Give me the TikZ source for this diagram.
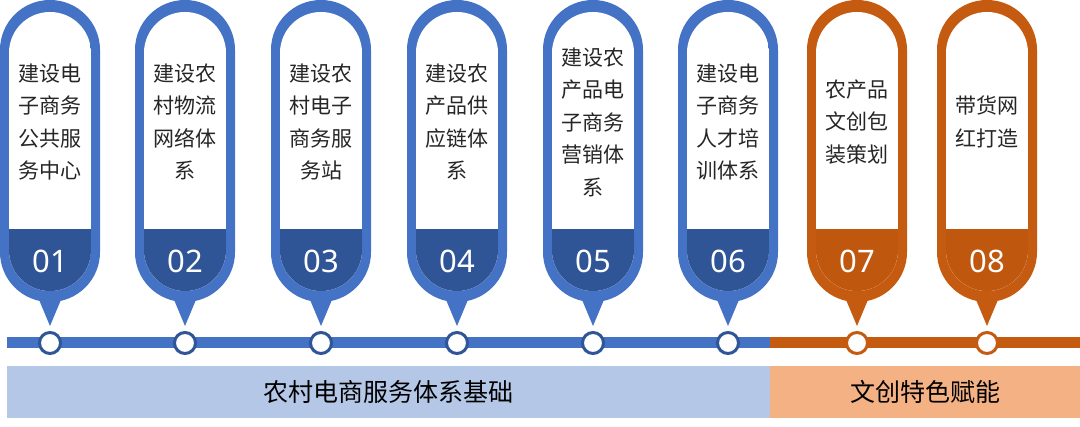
\documentclass[tikz,border=0pt]{standalone}
\usepackage{fontspec}
\newfontfamily\cjk{Noto Sans CJK SC}
\newfontfamily\numf{Noto Sans}
\definecolor{bmain}{HTML}{4472C4}
\definecolor{bdark}{HTML}{2F5597}
\definecolor{omain}{HTML}{C55A11}
\definecolor{odark}{HTML}{C0570F}
\definecolor{bbar}{HTML}{B4C7E7}
\definecolor{obar}{HTML}{F4B183}
\tikzset{
  ptext/.style={align=center,text width=80pt,font=\cjk\fontsize{21}{32.5}\selectfont,text=black!85},
  pnum/.style={font=\numf\fontsize{31}{32}\selectfont,text=white},
  bartext/.style={font=\cjk\fontsize{25}{28}\selectfont,text=black}
}
\newcommand{\mypill}[6]{% center, main, dark, number, text, name
  \fill[#2,rounded corners=49.9pt] (#1-50,0) rectangle (#1+50,302);
  \fill[#2] (#1-13,295) -- (#1+13,295) -- (#1,326) -- cycle;
  \begin{scope}
    \clip[rounded corners=40.9pt] (#1-41,12) rectangle (#1+41,291);
    \fill[white] (#1-41,0) rectangle (#1+41,300);
    \fill[#3] (#1-41,229) rectangle (#1+41,300);
  \end{scope}
  \node[ptext] (t#6) at (#1,122) {#5};
  \node[pnum] (n#6) at (#1,261) {#4};
}
\begin{document}
\begin{tikzpicture}[x=1pt,y=-1pt]
\useasboundingbox (0,0) rectangle (1080,427);
\fill[bmain] (7,337) rectangle (770,348);
\fill[omain] (770,337) rectangle (1080,348);
\fill[bbar] (7,366) rectangle (770,418);
\fill[obar] (770,366) rectangle (1080,418);
\node[bartext] (bl) at (388,392) {农村电商服务体系基础};
\node[bartext] (br) at (925,392) {文创特色赋能};
\mypill{50}{bmain}{bdark}{01}{建设电\\子商务\\公共服\\务中心}{1}
\mypill{185}{bmain}{bdark}{02}{建设农\\村物流\\网络体\\系}{2}
\mypill{321}{bmain}{bdark}{03}{建设农\\村电子\\商务服\\务站}{3}
\mypill{457}{bmain}{bdark}{04}{建设农\\产品供\\应链体\\系}{4}
\mypill{593}{bmain}{bdark}{05}{建设农\\产品电\\子商务\\营销体\\系}{5}
\mypill{728}{bmain}{bdark}{06}{建设电\\子商务\\人才培\\训体系}{6}
\mypill{857}{omain}{odark}{07}{农产品\\文创包\\装策划}{7}
\mypill{987}{omain}{odark}{08}{带货网\\红打造}{8}
\foreach \c/\bc in {50/bdark,185/bdark,321/bdark,457/bdark,593/bdark,728/bdark,857/omain,987/omain}
  \draw[\bc,line width=3pt,fill=white] (\c,343) circle (10.5);
\end{tikzpicture}
\end{document}
